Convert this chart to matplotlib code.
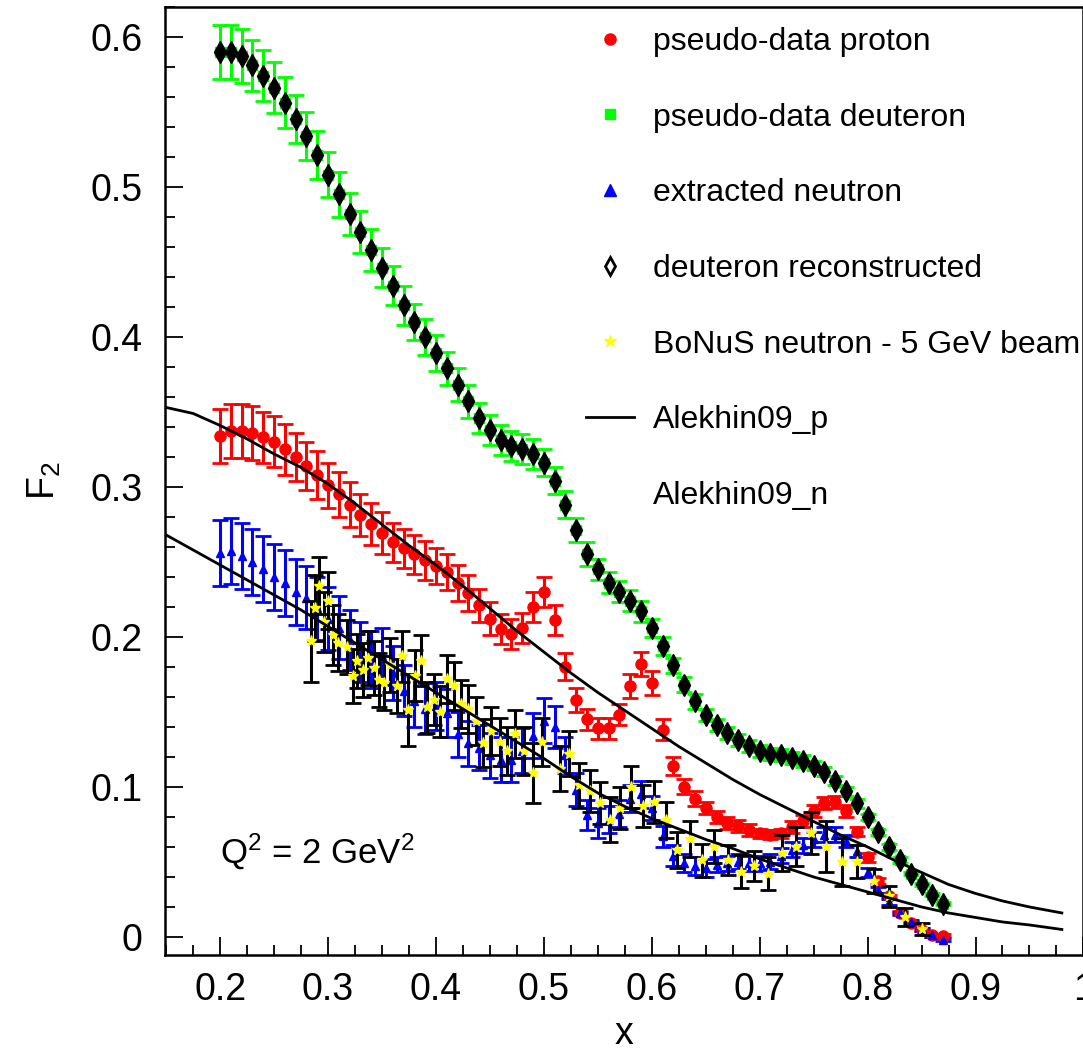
import numpy as np
import matplotlib
matplotlib.use("Agg")
import matplotlib.pyplot as plt
from matplotlib.lines import Line2D
from matplotlib.ticker import MultipleLocator

plt.rcParams['font.family'] = ['Liberation Sans', 'DejaVu Sans']
plt.rcParams['mathtext.fontset'] = 'custom'
plt.rcParams['mathtext.rm'] = 'Liberation Sans'
plt.rcParams['mathtext.it'] = 'Liberation Sans'

# common x grid of the pseudo-data (proton, deuteron, extracted neutron)
x_grid = [0.20, 0.21, 0.22, 0.23, 0.24, 0.25, 0.26, 0.27, 0.28, 0.29,
          0.30, 0.31, 0.32, 0.33, 0.34, 0.35, 0.36, 0.37, 0.38, 0.39,
          0.40, 0.41, 0.42, 0.43, 0.44, 0.45, 0.46, 0.47, 0.48, 0.49,
          0.50, 0.51, 0.52, 0.53, 0.54, 0.55, 0.56, 0.57, 0.58, 0.59,
          0.60, 0.61, 0.62, 0.63, 0.64, 0.65, 0.66, 0.67, 0.68, 0.69,
          0.70, 0.71, 0.72, 0.73, 0.74, 0.75, 0.76, 0.77, 0.78, 0.79,
          0.80, 0.81, 0.82, 0.83, 0.84, 0.85, 0.86, 0.87]

f2_p = [0.334, 0.337, 0.337, 0.336, 0.333, 0.330, 0.325, 0.320, 0.314, 0.308,
        0.301, 0.295, 0.288, 0.281, 0.275, 0.269, 0.263, 0.259, 0.255, 0.251,
        0.247, 0.243, 0.236, 0.229, 0.221, 0.212, 0.205, 0.202, 0.206, 0.220,
        0.230, 0.211, 0.180, 0.158, 0.145, 0.139, 0.139, 0.148, 0.167, 0.182,
        0.169, 0.138, 0.114, 0.100, 0.092, 0.086, 0.080, 0.076, 0.074, 0.071,
        0.069, 0.068, 0.069, 0.073, 0.077, 0.084, 0.089, 0.090, 0.084, 0.070,
        0.053, 0.037, 0.027, 0.016, 0.0095, 0.0047, 0.0013, 0.0007]
err_p = [0.018, 0.018, 0.018, 0.018, 0.017, 0.017, 0.017, 0.016, 0.016, 0.016,
         0.015, 0.015, 0.015, 0.014, 0.014, 0.014, 0.013, 0.013, 0.013, 0.013,
         0.012, 0.012, 0.012, 0.012, 0.011, 0.011, 0.010, 0.010, 0.010, 0.010,
         0.010, 0.010, 0.009, 0.008, 0.007, 0.007, 0.007, 0.007, 0.008, 0.008,
         0.008, 0.007, 0.006, 0.005, 0.005, 0.004, 0.004, 0.004, 0.004, 0.004,
         0.003, 0.003, 0.003, 0.004, 0.004, 0.004, 0.004, 0.004, 0.004, 0.003,
         0.003, 0.002, 0.001, 0.001, 0.001, 0.001, 0.001, 0.001]

f2_d = [0.590, 0.590, 0.587, 0.581, 0.574, 0.566, 0.556, 0.545, 0.534, 0.521,
        0.508, 0.495, 0.482, 0.470, 0.458, 0.446, 0.434, 0.421, 0.410, 0.400,
        0.389, 0.379, 0.368, 0.357, 0.346, 0.338, 0.331, 0.327, 0.325, 0.322,
        0.316, 0.304, 0.288, 0.271, 0.255, 0.245, 0.236, 0.230, 0.224, 0.217,
        0.206, 0.194, 0.181, 0.168, 0.157, 0.148, 0.141, 0.136, 0.131, 0.127,
        0.124, 0.122, 0.121, 0.119, 0.117, 0.114, 0.110, 0.104, 0.097, 0.089,
        0.080, 0.070, 0.060, 0.051, 0.042, 0.035, 0.028, 0.022]
err_d = [0.018, 0.018, 0.018, 0.017, 0.017, 0.017, 0.017, 0.016, 0.016, 0.016,
         0.015, 0.015, 0.014, 0.014, 0.014, 0.013, 0.013, 0.013, 0.012, 0.012,
         0.012, 0.011, 0.011, 0.011, 0.010, 0.010, 0.010, 0.010, 0.010, 0.010,
         0.009, 0.009, 0.009, 0.008, 0.008, 0.007, 0.007, 0.007, 0.007, 0.007,
         0.006, 0.006, 0.005, 0.005, 0.005, 0.004, 0.004, 0.004, 0.004, 0.004,
         0.004, 0.004, 0.004, 0.004, 0.004, 0.003, 0.003, 0.003, 0.003, 0.003,
         0.002, 0.002, 0.002, 0.002, 0.001, 0.001, 0.001, 0.001]
# reconstructed deuteron sits on top of the pseudo-data
f2_d_reco = list(f2_d)

f2_n = [0.256, 0.257, 0.254, 0.250, 0.245, 0.240, 0.236, 0.230, 0.226, 0.219,
        0.212, 0.206, 0.198, 0.190, 0.185, 0.187, 0.176, 0.164, 0.157, 0.152,
        0.154, 0.149, 0.135, 0.129, 0.126, 0.121, 0.118, 0.118, 0.124, 0.134,
        0.144, 0.140, 0.121, 0.098, 0.081, 0.076, 0.078, 0.082, 0.092, 0.095,
        0.086, 0.067, 0.054, 0.049, 0.047, 0.046, 0.048, 0.049, 0.050, 0.049,
        0.049, 0.050, 0.054, 0.058, 0.061, 0.065, 0.068, 0.068, 0.064, 0.057,
        0.043, 0.031, 0.0235, 0.0157, 0.010, 0.005, 0.001, -0.002]
err_n = [0.022, 0.022, 0.022, 0.022, 0.022, 0.022, 0.022, 0.022, 0.021, 0.021,
         0.021, 0.021, 0.020, 0.020, 0.019, 0.019, 0.018, 0.017, 0.017, 0.017,
         0.016, 0.016, 0.015, 0.015, 0.015, 0.015, 0.015, 0.015, 0.015, 0.015,
         0.015, 0.014, 0.012, 0.011, 0.010, 0.010, 0.009, 0.009, 0.009, 0.009,
         0.008, 0.007, 0.007, 0.006, 0.006, 0.006, 0.005, 0.005, 0.005, 0.005,
         0.005, 0.005, 0.005, 0.005, 0.005, 0.005, 0.005, 0.005, 0.004, 0.004,
         0.003, 0.002, 0.002, 0.001, 0.001, 0.001, 0.001, 0.001]

# BoNuS neutron, 5 GeV beam
x_bonus = [0.284, 0.288, 0.292, 0.296, 0.300, 0.305, 0.309, 0.318, 0.323, 0.327,
           0.332, 0.337, 0.343, 0.347, 0.352, 0.357, 0.364, 0.369, 0.374, 0.381,
           0.386, 0.392, 0.398, 0.404, 0.410, 0.417, 0.423, 0.430, 0.437, 0.444,
           0.451, 0.459, 0.466, 0.473, 0.482, 0.490, 0.498, 0.515, 0.523, 0.533,
           0.543, 0.552, 0.561, 0.571, 0.581, 0.592, 0.602, 0.613, 0.623, 0.635,
           0.647, 0.658, 0.671, 0.683, 0.695, 0.708, 0.721, 0.734, 0.748, 0.761,
           0.776, 0.790, 0.806, 0.820, 0.835, 0.850]
f2_bonus = [0.197, 0.219, 0.234, 0.210, 0.224, 0.201, 0.196, 0.193, 0.174, 0.184,
            0.178, 0.186, 0.179, 0.171, 0.169, 0.181, 0.167, 0.187, 0.151, 0.174,
            0.184, 0.153, 0.158, 0.150, 0.172, 0.167, 0.155, 0.152, 0.144, 0.129,
            0.137, 0.130, 0.124, 0.135, 0.124, 0.109, 0.130, 0.112, 0.122, 0.101,
            0.097, 0.089, 0.078, 0.086, 0.100, 0.087, 0.090, 0.078, 0.058, 0.065,
            0.051, 0.060, 0.051, 0.0435, 0.047, 0.042, 0.056, 0.060, 0.069, 0.060,
            0.050, 0.050, 0.037, 0.027, 0.0135, 0.005]
err_bonus = [0.027, 0.022, 0.019, 0.020, 0.019, 0.020, 0.019, 0.018, 0.018, 0.018,
             0.018, 0.018, 0.018, 0.018, 0.018, 0.018, 0.018, 0.017, 0.024, 0.017,
             0.017, 0.017, 0.017, 0.017, 0.016, 0.016, 0.016, 0.016, 0.016, 0.016,
             0.016, 0.016, 0.016, 0.016, 0.016, 0.020, 0.016, 0.015, 0.015, 0.015,
             0.014, 0.014, 0.015, 0.014, 0.014, 0.014, 0.014, 0.012, 0.012, 0.012,
             0.011, 0.011, 0.010, 0.011, 0.010, 0.011, 0.012, 0.013, 0.014, 0.017,
             0.016, 0.011, 0.008, 0.007, 0.006, 0.004]

# Alekhin09 model curves
x_curve = [0.15, 0.175, 0.20, 0.225, 0.25, 0.275, 0.30, 0.325, 0.35, 0.375,
           0.40, 0.425, 0.45, 0.475, 0.50, 0.525, 0.55, 0.575, 0.60, 0.625,
           0.65, 0.675, 0.70, 0.725, 0.75, 0.775, 0.80, 0.825, 0.85, 0.875,
           0.90, 0.925, 0.95, 0.98]
alekhin_p = [0.353, 0.349, 0.341, 0.332, 0.322, 0.313, 0.302, 0.289, 0.275, 0.261,
             0.248, 0.234, 0.219, 0.204, 0.190, 0.176, 0.163, 0.151, 0.139, 0.127,
             0.116, 0.105, 0.095, 0.086, 0.077, 0.068, 0.060, 0.051, 0.043, 0.035,
             0.029, 0.024, 0.020, 0.016]
alekhin_n = [0.268, 0.258, 0.248, 0.238, 0.228, 0.218, 0.207, 0.196, 0.185, 0.174,
             0.163, 0.152, 0.141, 0.130, 0.119, 0.107, 0.096, 0.087, 0.079, 0.072,
             0.065, 0.059, 0.052, 0.046, 0.040, 0.035, 0.030, 0.025, 0.020, 0.016,
             0.013, 0.010, 0.008, 0.005]

GREEN = '#00ff00'
RED = '#ff0000'
BLUE = '#0000ff'
YELLOW = '#ffff00'

fig = plt.figure(figsize=(10.83, 10.53), dpi=100)
ax = fig.add_axes([0.1524, 0.0931, 0.848, 0.9003])

bar_kw = dict(ls='none', elinewidth=2.2, capsize=6, capthick=2.0)

# pseudo-data deuteron, with the reconstructed deuteron drawn over it
ax.errorbar(x_grid, f2_d, yerr=err_d, fmt='s', color=GREEN, ms=7, zorder=2, **bar_kw)
ax.plot(x_grid, f2_d_reco, 'd', color='black', ms=11, ls='none', zorder=3)

ax.errorbar(x_grid, f2_p, yerr=err_p, fmt='o', color=RED, ms=8, zorder=2, **bar_kw)
ax.errorbar(x_grid, f2_n, yerr=err_n, fmt='^', color=BLUE, ms=6, zorder=2, **bar_kw)

ax.errorbar(x_bonus, f2_bonus, yerr=err_bonus, fmt='none', ecolor='black', zorder=4, **bar_kw)
ax.plot(x_bonus, f2_bonus, '*', color=YELLOW, ms=8, ls='none', zorder=5)

ax.plot(x_curve, alekhin_p, color='black', lw=2.0, zorder=6)
ax.plot(x_curve, alekhin_n, color='black', lw=2.0, zorder=6)

ax.set_xlim(0.149, 1.0)
ax.set_ylim(-0.012, 0.62)
ax.xaxis.set_minor_locator(MultipleLocator(0.025))
ax.yaxis.set_minor_locator(MultipleLocator(0.02))
ax.set_xticks([0.2, 0.3, 0.4, 0.5, 0.6, 0.7, 0.8, 0.9, 1.0])
ax.set_xticklabels(['0.2', '0.3', '0.4', '0.5', '0.6', '0.7', '0.8', '0.9', '1'])
ax.set_yticks([0, 0.1, 0.2, 0.3, 0.4, 0.5, 0.6])
ax.set_yticklabels(['0', '0.1', '0.2', '0.3', '0.4', '0.5', '0.6'])
ax.tick_params(which='both', direction='in', top=False, right=False, width=1.3)
ax.tick_params(which='major', length=13, labelsize=27)
ax.tick_params(axis='x', which='major', pad=12)
ax.tick_params(axis='y', which='major', pad=16)
ax.tick_params(which='minor', length=7)
for side in ax.spines.values():
    side.set_linewidth(1.8)

ax.set_xlabel('x', fontsize=27, labelpad=6)
ax.set_ylabel(r'F$_{2}$', fontsize=27, labelpad=20)

ax.text(0.2, 0.057, r'Q$^{2}$ = 2 GeV$^{2}$', fontsize=25, va='center', ha='left')

handles = [
    Line2D([], [], marker='o', color=RED, ls='none', ms=8),
    Line2D([], [], marker='s', color=GREEN, ls='none', ms=7),
    Line2D([], [], marker='^', color=BLUE, ls='none', ms=8),
    Line2D([], [], marker='d', mfc='white', mec='black', mew=2, ls='none', ms=9),
    Line2D([], [], marker='*', color=YELLOW, ls='none', ms=9),
    Line2D([], [], color='black', lw=2),
    Line2D([], [], color='none'),
]
labels = ['pseudo-data proton', 'pseudo-data deuteron', 'extracted neutron',
          'deuteron reconstructed', 'BoNuS neutron - 5 GeV beam',
          'Alekhin09_p', 'Alekhin09_n']
ax.legend(handles, labels, loc='upper left', bbox_to_anchor=(0.4586, 0.979),
          frameon=False, fontsize=23, labelspacing=1.43, handlelength=1.5,
          handletextpad=0.6, borderpad=0, borderaxespad=0)

fig.savefig('out.png', dpi=100)
